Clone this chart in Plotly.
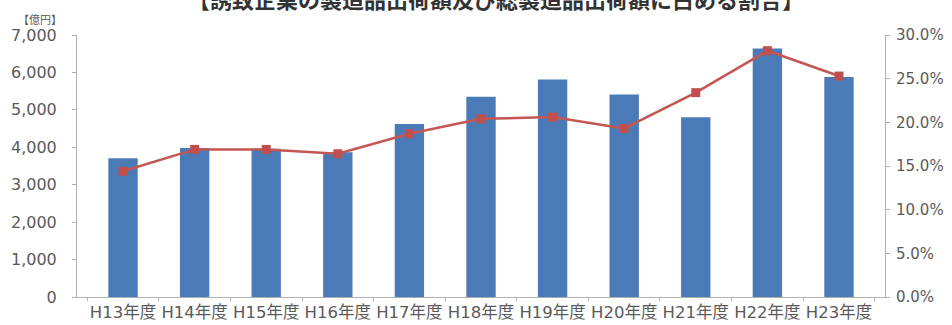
import plotly.graph_objects as go

categories = ["H13年度", "H14年度", "H15年度", "H16年度", "H17年度", "H18年度",
              "H19年度", "H20年度", "H21年度", "H22年度", "H23年度"]
shipments = [3710, 3980, 3960, 3870, 4620, 5350, 5810, 5410, 4800, 6640, 5880]
share_pct = [14.4, 16.9, 16.9, 16.4, 18.7, 20.4, 20.6, 19.3, 23.4, 28.2, 25.3]
left_ticks = [0, 1000, 2000, 3000, 4000, 5000, 6000, 7000]
right_ticks = [0, 5, 10, 15, 20, 25, 30]
right_labels = [f"{v:.1f}%" for v in right_ticks]

title_text = "【誘致企業の製造品出荷額及び総製造品出荷額に占める割合】"
unit_text = "【億円】"

FONT = "DejaVu Sans, Noto Sans CJK JP, sans-serif"
AXC = "#b0b0b0"
TXT = "#5a5a5a"

fig = go.Figure()
fig.add_trace(go.Bar(x=categories, y=shipments, marker_color="#4a7bb7",
                     marker_line_width=0, width=0.41, name="出荷額", yaxis="y"))
fig.add_trace(go.Scatter(x=categories, y=share_pct, mode="lines+markers",
                         line=dict(color="#c45653", width=2.5),
                         marker=dict(symbol="square", size=9, color="#c0504d"),
                         name="割合", yaxis="y2"))

fig.update_layout(
    width=952, height=325,
    margin=dict(l=77, r=67, t=35, b=28, autoexpand=False),
    paper_bgcolor="white", plot_bgcolor="white",
    showlegend=False,
    bargap=0.59,
    font=dict(family=FONT, color=TXT, size=15),
    title=dict(text=title_text, x=496/952, xref="container", xanchor="center",
               y=1.0, yref="container", yanchor="middle", automargin=False,
               font=dict(family="Noto Sans CJK JP", size=22, color="#333333", weight="bold")),
    xaxis=dict(showline=True, linecolor=AXC, linewidth=1, ticks="outside",
               tickson="boundaries", ticklen=3, tickcolor=AXC, automargin=False,
               tickangle=0,
               tickfont=dict(size=16.5, color=TXT, family=FONT),
               showgrid=False),
    yaxis=dict(range=[0, 7000], tickvals=left_ticks, tickformat=",", automargin=False,
               showline=True, linecolor=AXC, linewidth=1, ticks="outside",
               ticklen=4, tickcolor=AXC, showgrid=False, zeroline=False,
               ticklabelstandoff=12,
               tickfont=dict(size=16, color=TXT, family=FONT)),
    yaxis2=dict(range=[0, 30], tickvals=right_ticks, ticktext=right_labels,
                overlaying="y", side="right", automargin=False,
                showline=True, linecolor=AXC, linewidth=1, ticks="outside",
                ticklen=4, tickcolor=AXC, showgrid=False, zeroline=False,
                ticklabelstandoff=3,
                tickfont=dict(size=15, color=TXT, family=FONT)),
    annotations=[dict(text=unit_text, xref="paper", yref="paper",
                      x=(40-77)/808, y=(297-19)/262, xanchor="center", yanchor="middle",
                      showarrow=False, font=dict(size=11, color=TXT, family="Noto Sans CJK JP"))],
)

fig.write_html("out.html", config={"displayModeBar": False},
               post_script="document.body.style.margin='0';document.body.style.overflow='hidden';")
